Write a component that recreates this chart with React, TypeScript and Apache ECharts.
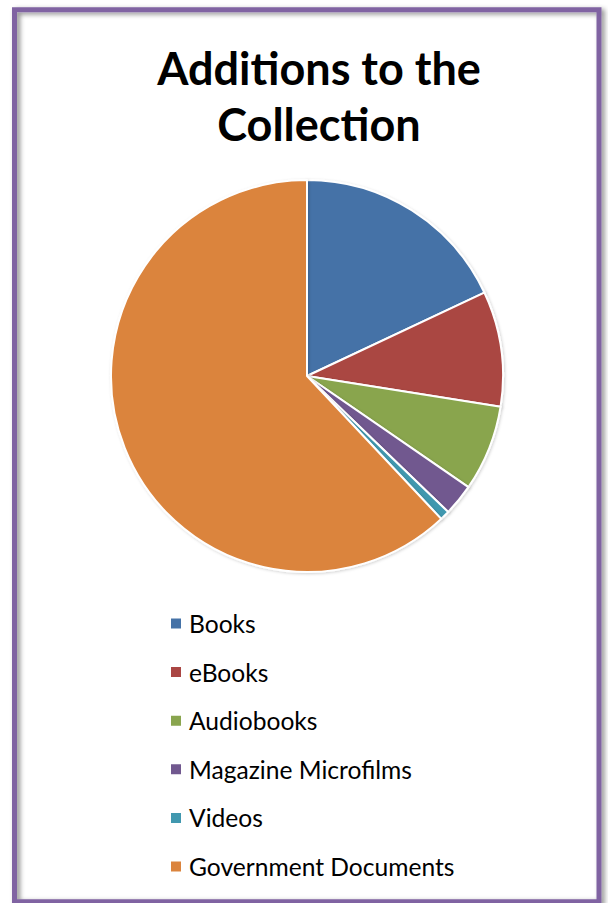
import React, { useEffect, useRef } from "react";
import * as echarts from "echarts";

const titleText = "Additions to the\nCollection";
const categories = [
  "Books",
  "eBooks",
  "Audiobooks",
  "Magazine Microfilms",
  "Videos",
  "Government Documents",
];
const values = [18.0, 9.5, 7.1, 2.6, 0.8, 62.0];
const colors = ["#4572A7", "#AA4643", "#89A54E", "#71588F", "#4198AF", "#DB843D"];

export default function App() {
  const ref = useRef<HTMLDivElement>(null);
  useEffect(() => {
    if (!ref.current) return;
    const chart = echarts.init(ref.current, undefined, { renderer: "svg" });
    chart.setOption({
      animation: false,
      backgroundColor: "#ffffff",
      color: colors,
      title: {
        text: titleText,
        left: 319,
        top: 40,
        textAlign: "center",
        padding: 0,
        textStyle: {
          fontFamily: "Lato",
          fontWeight: "bold",
          fontSize: 45,
          lineHeight: 56,
          color: "#000000",
        },
      },
      legend: {
        orient: "vertical",
        left: 169,
        top: 611,
        padding: 0,
        itemWidth: 12,
        itemHeight: 12,
        itemGap: 23.6,
        icon: "rect",
        selectedMode: false,
        textStyle: {
          fontFamily: "Lato",
          fontSize: 24.6,
          lineHeight: 24,
          color: "#000000",
          padding: [0, 0, 0, 2],
        },
        data: categories,
      },
      graphic: [
        {
          type: "rect",
          shape: { x: 14.5, y: 9.8, width: 584.5, height: 892 },
          style: {
            fill: "none",
            stroke: "#8064A2",
            lineWidth: 5,
            shadowColor: "rgba(0,0,0,0.45)",
            shadowBlur: 5,
            shadowOffsetX: 3,
            shadowOffsetY: 2,
          },
          silent: true,
        },
      ],
      series: [
        {
          type: "pie",
          center: [307, 376],
          radius: 196,
          startAngle: 90,
          clockwise: true,
          label: { show: false },
          labelLine: { show: false },
          silent: true,
          itemStyle: {
            borderColor: "#ffffff",
            borderWidth: 2,
            shadowColor: "rgba(0,0,0,0.18)",
            shadowBlur: 3,
            shadowOffsetX: 1,
            shadowOffsetY: 1,
          },
          data: categories.map((name, i) => ({ name, value: values[i] })),
        },
      ],
    });
    return () => chart.dispose();
  }, []);
  return (
    <div
      ref={ref}
      style={{ position: "absolute", left: 0, top: 0, width: 608, height: 903 }}
    />
  );
}
